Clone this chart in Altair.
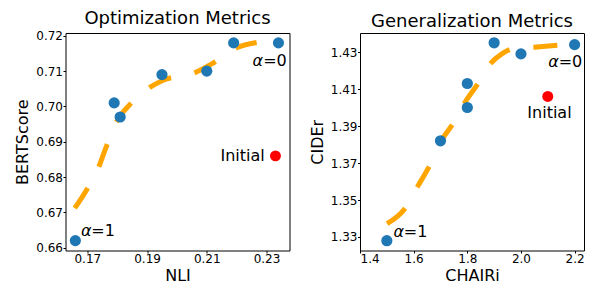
import altair as alt
import pandas as pd

# ---------------- Left panel: Optimization Metrics ----------------
opt_nli = [0.166, 0.179, 0.181, 0.195, 0.210, 0.219, 0.234]
opt_bert = [0.662, 0.701, 0.697, 0.709, 0.710, 0.718, 0.718]
opt_init_nli = [0.233]
opt_init_bert = [0.686]
opt_fit_nli = [0.1658, 0.1700, 0.1739, 0.1764, 0.1797, 0.1843, 0.1906, 0.1956, 0.2050, 0.2128, 0.2200, 0.2267]
opt_fit_bert = [0.6712, 0.6767, 0.6830, 0.6887, 0.6955, 0.7006, 0.7052, 0.7075, 0.7092, 0.7126, 0.7166, 0.7181]
opt_x_ticks = [0.17, 0.19, 0.21, 0.23]
opt_y_ticks = [0.66, 0.67, 0.68, 0.69, 0.70, 0.71, 0.72]

# ---------------- Right panel: Generalization Metrics ----------------
gen_chair = [1.5, 1.7, 1.8, 1.8, 1.9, 2.0, 2.2]
gen_cider = [1.328, 1.382, 1.413, 1.400, 1.435, 1.429, 1.434]
gen_init_chair = [2.1]
gen_init_cider = [1.406]
gen_fit_chair = [1.501, 1.570, 1.614, 1.660, 1.705, 1.750, 1.790, 1.840, 1.885, 1.930, 1.970, 2.060, 2.150]
gen_fit_cider = [1.3372, 1.3459, 1.3571, 1.3687, 1.3825, 1.3920, 1.4025, 1.4130, 1.4235, 1.4292, 1.4318, 1.4327, 1.4338]
gen_x_ticks = [1.4, 1.6, 1.8, 2.0, 2.2]
gen_y_ticks = [1.33, 1.35, 1.37, 1.39, 1.41, 1.43]

BLUE = "#1f77b4"
RED = "#ff0000"
ORANGE = "#ffa500"
FONT = "DejaVu Sans"
ALPHA_W = 10.3   # width of italic alpha at 16px
EQ_W = 23.6      # width of "=0" at 16px
PLOT_W = 224
PLOT_H = 217.5


def text_layer(x, y, text, xe, ye, dx, dy, align, italic=False):
    df = pd.DataFrame({"x": [x], "y": [y]})
    kw = dict(text=text, dx=dx, dy=dy, align=align, baseline="middle",
              fontSize=16, font=FONT, color="black")
    if italic:
        kw["fontStyle"] = "italic"
    return alt.Chart(df).mark_text(**kw).encode(x=xe, y=ye)


def panel(title, xtitle, ytitle, xdom, ydom, xticks, yticks, xfmt, yfmt,
          fx, fy, px, py, ix, iy, a1, a0, init_off, init_align):
    xe = alt.X("x:Q", scale=alt.Scale(domain=xdom, nice=False, zero=False),
               axis=alt.Axis(values=xticks, format=xfmt, title=xtitle))
    ye = alt.Y("y:Q", scale=alt.Scale(domain=ydom, nice=False, zero=False),
               axis=alt.Axis(values=yticks, format=yfmt, title=ytitle))
    fit = alt.Chart(pd.DataFrame({"x": fx, "y": fy})).mark_line(
        color=ORANGE, strokeWidth=5, strokeDash=[24, 24], interpolate="monotone",
        strokeCap="butt").encode(x=xe, y=ye)
    pts = alt.Chart(pd.DataFrame({"x": px, "y": py})).mark_circle(
        color=BLUE, size=125, opacity=1).encode(x=xe, y=ye)
    init = alt.Chart(pd.DataFrame({"x": ix, "y": iy})).mark_circle(
        color=RED, size=120, opacity=1).encode(x=xe, y=ye)
    layers = [fit, pts, init]
    dx1, dy1 = a1
    layers.append(text_layer(px[0], py[0], "α", xe, ye, dx1, dy1, "left", True))
    layers.append(text_layer(px[0], py[0], "=1", xe, ye, dx1 + ALPHA_W, dy1, "left"))
    dx0, dy0 = a0
    layers.append(text_layer(px[-1], py[-1], "=0", xe, ye, dx0, dy0, "right"))
    layers.append(text_layer(px[-1], py[-1], "α", xe, ye, dx0 - EQ_W, dy0, "right", True))
    layers.append(text_layer(ix[0], iy[0], "Initial", xe, ye, init_off[0], init_off[1], init_align))
    return alt.layer(*layers).properties(
        width=PLOT_W, height=PLOT_H,
        title=alt.TitleParams(title, fontSize=18, font=FONT, fontWeight="normal",
                              anchor="middle", offset=2, color="black"))


left = panel("Optimization Metrics", "NLI", "BERTScore",
             [0.1627, 0.2377], [0.6592, 0.7208], opt_x_ticks, opt_y_ticks, ".2f", ".2f",
             opt_fit_nli, opt_fit_bert, opt_nli, opt_bert, opt_init_nli, opt_init_bert,
             a1=(5.6, -10), a0=(8.3, 18), init_off=(-10.7, 0), init_align="right")

right = panel("Generalization Metrics", "CHAIRi", "CIDEr",
              [1.4, 2.235], [1.3227, 1.4403], gen_x_ticks, gen_y_ticks, ".1f", ".2f",
              gen_fit_chair, gen_fit_cider, gen_chair, gen_cider, gen_init_chair, gen_init_cider,
              a1=(6.7, -8.3), a0=(7.7, 17), init_off=(1.7, 16.5), init_align="center")

chart = alt.hconcat(left, right, spacing=17.5).properties(
    padding={"left": 5.5, "top": 1, "right": 0, "bottom": 0}
).configure_view(
    stroke="black", strokeWidth=1
).configure_axis(
    domain=False, grid=False, tickColor="black", tickSize=2.5, tickWidth=1,
    labelFont=FONT, labelFontSize=12, labelColor="black", labelPadding=0.5,
    titleFont=FONT, titleFontSize=16, titleFontWeight="normal", titleColor="black",
).configure_axisX(titlePadding=2.5).configure_axisY(titlePadding=5)

chart.save("out.html", embed_options={"renderer": "svg", "actions": False})
